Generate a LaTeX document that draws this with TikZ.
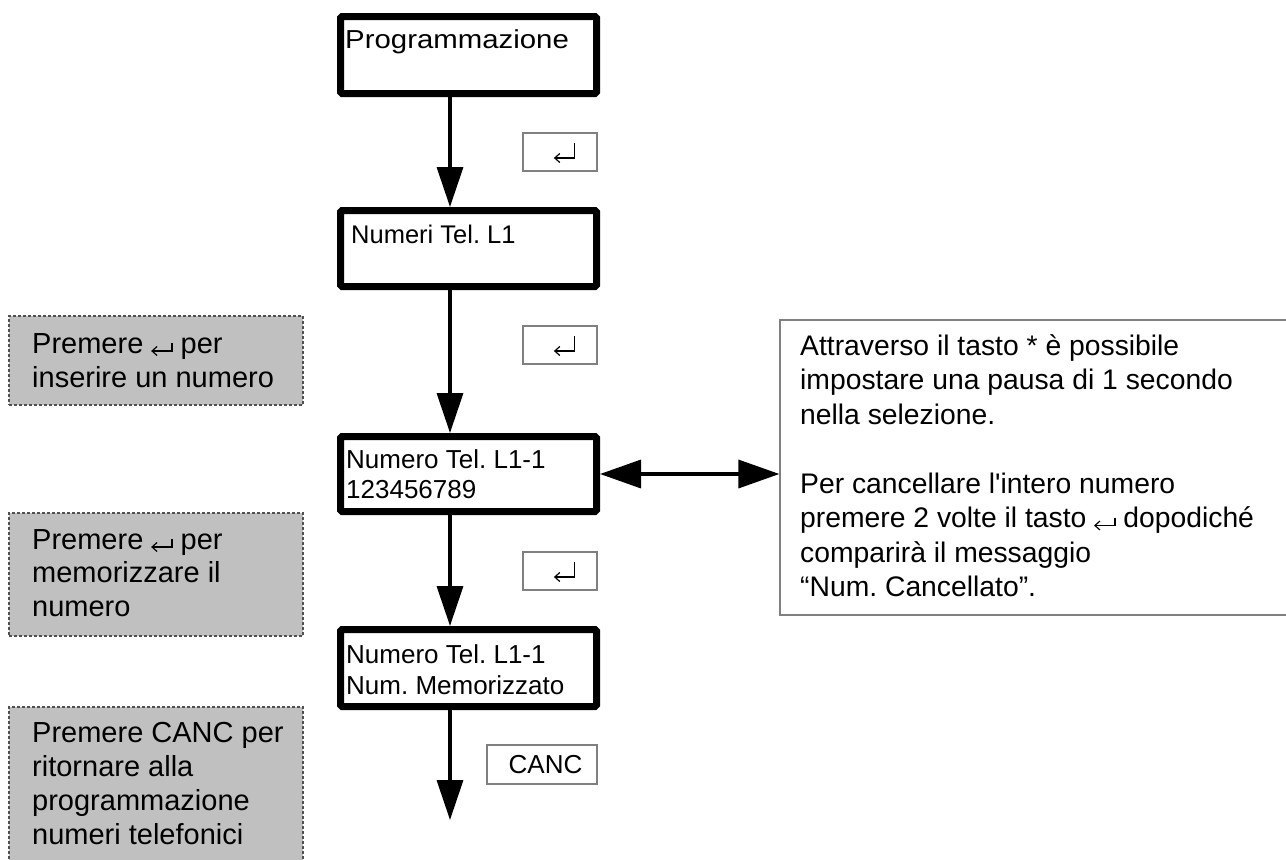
\documentclass[tikz,border=0pt]{standalone}
\usepackage{fontspec}
\setmainfont{Liberation Sans}[Ligatures=TeXOff]
\usetikzlibrary{arrows.meta}
\frenchspacing
\definecolor{keygray}{RGB}{128,128,128}
\definecolor{dashgray}{RGB}{80,80,80}
\definecolor{hintgray}{RGB}{192,192,192}
% inline return symbol (text)
\newcommand{\retsym}{\tikz[baseline=0pt,x=1pt,y=1pt]{\draw[line width=1.2pt] (21,10) -- (21,2) -- (1.5,2); \draw[line width=1.2pt,line join=miter] (6,6.5) -- (1,2) -- (6,-2.5);}}
% return symbol on keys
\newcommand{\keyret}{\tikz[baseline=0pt,x=1pt,y=1pt]{\draw[line width=1.2pt] (21,17) -- (21,2) -- (1.5,2); \draw[line width=1.2pt,line join=miter] (6,6.5) -- (1,2) -- (6,-2.5);}}
\begin{document}
\begin{tikzpicture}[x=1pt,y=-1pt,
  main/.style={draw, line width=7pt, rounded corners=1.5pt, minimum width=256pt, minimum height=76pt, inner sep=0pt},
  txt/.style={anchor=base west, inner sep=0pt, align=left, font=\fontsize{29}{30}\selectfont},
  boxtxt/.style={anchor=base west, inner sep=0pt, align=left, font=\fontsize{26}{30.5}\selectfont},
  key/.style={draw=keygray, line width=1.2pt, inner sep=0pt, minimum height=38pt, font=\fontsize{26}{30}\selectfont},
  hint/.style={draw=dashgray, fill=hintgray, dash pattern=on 3pt off 2pt, line width=1.1pt, minimum width=294pt, inner sep=0pt},
  note/.style={draw=keygray, line width=1.2pt, inner sep=0pt},
  arr/.style={line width=3.5pt, -{Triangle[length=40pt,width=26pt]}},
  dbl/.style={line width=3.5pt, {Triangle[length=41pt,width=28pt]}-{Triangle[length=41pt,width=28pt]}},
]
\useasboundingbox (0,0) rectangle (1286,860);
\clip (0,0) rectangle (1286,860);

% main boxes
\node[main, minimum height=77pt] (b1) at (468.5,55) {};
\node[main] (b2) at (468.5,248.5) {};
\node[main, minimum height=75pt] (b3) at (468.5,474) {};
\node[main, minimum height=77pt] (b4) at (468.5,668) {};

\node[boxtxt] (t1) at (345,48) {\scalebox{1.13}[1]{Programmazione}};
\node[boxtxt, font=\fontsize{25.5}{30}\selectfont] (t2) at (351,243) {Numeri Tel. L1};
\node[boxtxt, font=\fontsize{26}{30}\selectfont] (t3) at (346,498) {Numero Tel. L1-1\\123456789};
\node[boxtxt, font=\fontsize{26}{31}\selectfont] (t4) at (346,694) {Numero Tel. L1-1\\Num. Memorizzato};

% arrows
\coordinate (ax) at (450,0);
\coordinate (end) at (450,820);
\draw[arr] (b1.south -| ax) -- (b2.north -| ax);
\draw[arr] (b2.south -| ax) -- (b3.north -| ax);
\draw[arr] (b3.south -| ax) -- (b4.north -| ax);
\draw[arr] (b4.south -| ax) -- (end);

% keys
\node[key, minimum width=74pt] (k1) at (560,152) {};
\node[key, minimum width=74pt] (k2) at (560,345) {};
\node[key, minimum width=74pt] (k3) at (560,571) {};
\node[key, minimum width=110pt, minimum height=39pt] (k4) at (542,764.5) {\hspace*{7pt}CANC};
\node[inner sep=0pt, anchor=base west] (r1) at (554,160) {\keyret};
\node[inner sep=0pt, anchor=base west] (r2) at (554,353) {\keyret};
\node[inner sep=0pt, anchor=base west] (r3) at (554,579) {\keyret};

% hint boxes
\node[hint, minimum height=89pt] (h1) at (156,360.5) {};
\node[hint, minimum height=123pt] (h2) at (156,574.5) {};
\node[hint, minimum height=163pt] (h3) at (156,788.5) {};
\node[txt, font=\fontsize{29}{34}\selectfont] (ht1) at (32,387) {Premere \retsym{} per\\inserire un numero};
\node[txt, font=\fontsize{29}{33.5}\selectfont] (ht2) at (32,616) {Premere \retsym{} per\\memorizzare il\\numero};
\node[txt, font=\fontsize{29}{33.7}\selectfont] (ht3) at (32,844) {Premere CANC per\\ritornare alla\\programmazione\\numeri telefonici};

% note
\node[note, minimum width=510pt, minimum height=295pt] (nb) at (1035,467.5) {};
\node[txt, font=\fontsize{28.3}{34.5}\selectfont] (nt) at (800,596.5) {Attraverso il tasto * è possibile\\impostare una pausa di 1 secondo\\nella selezione.\\[34.5pt]Per cancellare l'intero numero\\premere 2 volte il tasto \retsym{} dopodiché\\comparirà il messaggio\\“Num. Cancellato”.};

\draw[dbl] (b3.east) -- (b3.east -| nb.west);
\end{tikzpicture}
\end{document}
